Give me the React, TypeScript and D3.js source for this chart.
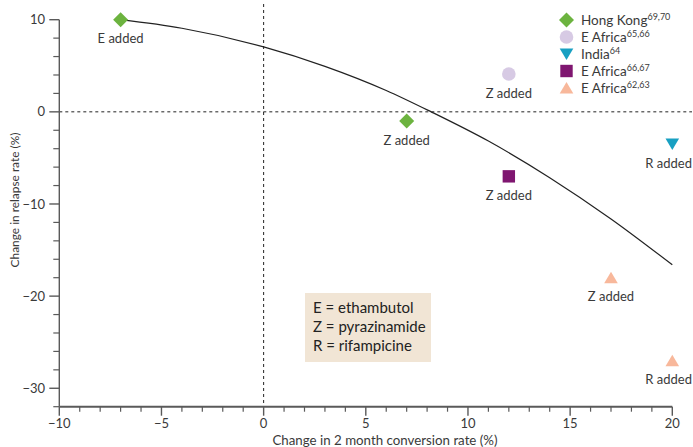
import React from "react";
import * as d3 from "d3";

const W = 693;
const H = 447;

// Curve (x, y)
const curveX = [-7, -4, 0, 3, 6, 8.2, 11, 14, 17, 20];
const curveY = [10, 9.07, 7.05, 4.94, 2.32, 0, -3.17, -7.14, -11.62, -16.6];

// Series
const seriesNames = ["Hong Kong", "E Africa", "India", "E Africa", "E Africa"];
const seriesRefs = ["69,70", "65,66", "64", "66,67", "62,63"];
const seriesColors = ["#6cb33f", "#d7cae4", "#18a0c2", "#7f1670", "#f8b89b"];
const seriesShapes = ["diamond", "circle", "triDown", "square", "triUp"];

const pointSeries = [0, 0, 1, 2, 3, 4, 4];
const pointX = [-7, 7, 12, 20, 12, 17, 20];
const pointY = [10, -1, 4.1, -3.5, -7, -18, -27];
const pointLabels = ["E added", "Z added", "Z added", "R added", "Z added", "Z added", "R added"];

const noteLines = ["E = ethambutol", "Z = pyrazinamide", "R = rifampicine"];

const xTicksMajor = [-10, -5, 0, 5, 10, 15, 20];
const yTicksMajor = [-30, -20, -10, 0, 10];

const FONT = "Lato, 'Open Sans', sans-serif";
const TEXT = "#3a3a3a";
const AXIS = "#5a5a5a";

function Marker({ shape, cx, cy, color }: { shape: string; cx: number; cy: number; color: string }) {
  if (shape === "diamond") {
    const r = 7.5;
    return <path d={`M${cx},${cy - r}L${cx + r},${cy}L${cx},${cy + r}L${cx - r},${cy}Z`} fill={color} />;
  }
  if (shape === "circle") return <circle cx={cx} cy={cy} r={6.8} fill={color} />;
  if (shape === "square") return <rect x={cx - 6.2} y={cy - 6.2} width={12.4} height={12.4} fill={color} />;
  if (shape === "triDown") {
    return <path d={`M${cx - 6.8},${cy - 5.5}L${cx + 6.8},${cy - 5.5}L${cx},${cy + 6}Z`} fill={color} />;
  }
  return <path d={`M${cx - 6.8},${cy + 5.5}L${cx + 6.8},${cy + 5.5}L${cx},${cy - 6}Z`} fill={color} />;
}

export default function App() {
  const x = d3.scaleLinear().domain([-10, 20]).range([59.3, 672.3]);
  const y = d3.scaleLinear().domain([-32, 10]).range([406.7, 19.7]);

  const xMinor = d3.range(-10, 21, 1).filter((v) => !xTicksMajor.includes(v));
  const yMinor = d3.range(-32, 11, 2).filter((v) => !yTicksMajor.includes(v));

  const line = d3
    .line<number>()
    .x((_, i) => x(curveX[i]))
    .y((_, i) => y(curveY[i]))
    .curve(d3.curveMonotoneX);
  const curvePath = line(curveX) || "";

  const fmt = (v: number) => (v < 0 ? "\u2212" + Math.abs(v) : String(v));

  return (
    <svg
      width={W}
      height={H}
      style={{ position: "absolute", left: 0, top: 0, display: "block", background: "#fff" }}
      fontFamily={FONT}
    >
      {/* dashed reference lines */}
      <line x1={x(0)} x2={x(0)} y1={4} y2={y(-32)} stroke="#222" strokeWidth={1} strokeDasharray="3,3" />
      <line x1={x(-10)} x2={692} y1={y(0)} y2={y(0)} stroke="#222" strokeWidth={1} strokeDasharray="3,3" />

      {/* y axis */}
      <line x1={x(-10)} x2={x(-10)} y1={y(10)} y2={y(-32)} stroke={AXIS} strokeWidth={1.4} />
      {yTicksMajor.map((v) => (
        <g key={"ym" + v}>
          <line x1={x(-10) - 10} x2={x(-10)} y1={y(v)} y2={y(v)} stroke={AXIS} strokeWidth={1.4} />
          <text x={45} y={y(v)} dy="0.35em" textAnchor="end" fontSize={13} fill={TEXT}>
            {fmt(v)}
          </text>
        </g>
      ))}
      {yMinor.map((v) => (
        <line key={"yn" + v} x1={x(-10) - 6} x2={x(-10)} y1={y(v)} y2={y(v)} stroke={AXIS} strokeWidth={1.2} />
      ))}
      <text
        transform={`translate(14.5,200) rotate(-90)`}
        textAnchor="middle"
        dy="0.35em"
        fontSize={11.9}
        fill={TEXT}
      >
        Change in relapse rate (%)
      </text>

      {/* x axis */}
      <line x1={x(-10)} x2={x(20)} y1={y(-32)} y2={y(-32)} stroke={AXIS} strokeWidth={2} />
      {xTicksMajor.map((v) => (
        <g key={"xm" + v}>
          <line x1={x(v)} x2={x(v)} y1={y(-32)} y2={y(-32) + 9} stroke={AXIS} strokeWidth={1.4} />
          <text x={x(v)} y={428.3} textAnchor="middle" fontSize={13} fill={TEXT}>
            {fmt(v)}
          </text>
        </g>
      ))}
      {xMinor.map((v) => (
        <line key={"xn" + v} x1={x(v)} x2={x(v)} y1={y(-32)} y2={y(-32) + 5} stroke={AXIS} strokeWidth={1.2} />
      ))}
      <text x={385} y={445} textAnchor="middle" fontSize={13.3} fill={TEXT}>
        Change in 2 month conversion rate (%)
      </text>

      {/* fitted curve */}
      <path d={curvePath} fill="none" stroke="#222" strokeWidth={1.2} />

      {/* points */}
      {pointX.map((px, i) => {
        const s = pointSeries[i];
        const cx = x(px);
        const nearEdge = cx > 660;
        return (
          <g key={"p" + i}>
            <Marker shape={seriesShapes[s]} cx={cx} cy={y(pointY[i])} color={seriesColors[s]} />
            <text
              x={nearEdge ? 692 : cx}
              y={y(pointY[i]) + 19}
              dy="0.35em"
              textAnchor={nearEdge ? "end" : "middle"}
              fontSize={13}
              fill={TEXT}
            >
              {pointLabels[i]}
            </text>
          </g>
        );
      })}

      {/* note box */}
      <rect x={305} y={293} width={126} height={69} fill="#f1e5d5" />
      {noteLines.map((t, i) => (
        <text key={"n" + i} x={313} y={308 + i * 19} dy="0.35em" fontSize={15} fill="#222">
          {t}
        </text>
      ))}

      {/* legend */}
      {seriesNames.map((name, i) => {
        const cy = 20 + i * 17;
        return (
          <g key={"l" + i}>
            <Marker shape={seriesShapes[i]} cx={566.5} cy={cy} color={seriesColors[i]} />
            <text x={581} y={cy} dy="0.35em" fontSize={13.5} fill={TEXT}>
              {name}
              <tspan dy="-0.5em" fontSize={9}>
                {seriesRefs[i]}
              </tspan>
            </text>
          </g>
        );
      })}
    </svg>
  );
}
